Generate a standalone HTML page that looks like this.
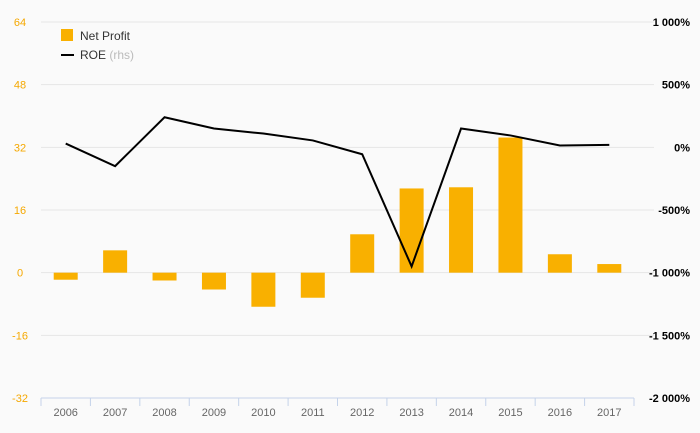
<!DOCTYPE html>
<html><head><meta charset="utf-8"><style>
body{margin:0;background:#fafafa;}
svg{display:block;font-family:"Liberation Sans",sans-serif;}
</style></head><body>
<svg id="c" width="700" height="433"></svg>
<script>
const categories=["2006","2007","2008","2009","2010","2011","2012","2013","2014","2015","2016","2017"];
const netProfit=[-1.8,5.7,-2,-4.3,-8.7,-6.4,9.8,21.5,21.8,34.5,4.7,2.2];
const roe=[30,-150,240,150,110,55,-55,-950,150,95,15,20];
const leftTicks=[64,48,32,16,0,-16,-32];
const rightTicks=[1000,500,0,-500,-1000,-1500,-2000];
const rightLabels=["1 000%","500%","0%","-500%","-1 000%","-1 500%","-2 000%"];
const NS="http://www.w3.org/2000/svg";
const svg=document.getElementById('c');
const X0=41,X1=634,Y0=22,Y1=398;
const yL=v=>Y0+(64-v)/96*(Y1-Y0);
const yR=v=>Y0+(1000-v)/3000*(Y1-Y0);
const bw=(X1-X0)/categories.length;
const xC=i=>X0+bw*(i+0.5);
function el(t,a,txt){const e=document.createElementNS(NS,t);for(const k in a)e.setAttribute(k,a[k]);if(txt!=null)e.textContent=txt;svg.appendChild(e);return e;}
leftTicks.forEach((v,i)=>{
 if(v!==-32){const g=el('line',{x1:X0,x2:X1+20,y1:yL(v),y2:yL(v),stroke:'#e6e6e6','stroke-width':1});
 
 }
 const t=el('text',{x:20,y:yL(v)+4,'text-anchor':'middle','font-size':11,fill:'#f5a800'},String(v));
 
 
 const r=el('text',{x:690,y:yR(rightTicks[i])+4,'text-anchor':'end','font-size':11,'font-weight':'bold',fill:'#000'},rightLabels[i]);
 
 
});
const ax=el('line',{x1:X0,x2:X1,y1:Y1,y2:Y1,stroke:'#c5d3ea','stroke-width':1});


for(let i=0;i<=categories.length;i++){
 const tk=el('line',{x1:X0+bw*i,x2:X0+bw*i,y1:Y1,y2:Y1+8,stroke:'#c5d3ea'});
 
 
}
categories.forEach((c,i)=>{
 const t=el('text',{x:xC(i),y:416,'text-anchor':'middle','font-size':11,fill:'#666'},c);
 
 
 const v=netProfit[i];
 const b=el('rect',{x:xC(i)-12,width:24,y:Math.min(yL(v),yL(0)),height:Math.abs(yL(v)-yL(0)),fill:'#f9b000'});
 
 
});
const ln=el('polyline',{points:roe.map((v,i)=>xC(i)+','+yR(v)).join(' '),fill:'none',stroke:'#000','stroke-width':2});


const l1=el('rect',{x:61,y:29,width:12,height:12,fill:'#f9b000'});


const l1t=el('text',{x:80,y:40,'font-size':12,fill:'#333'},'Net Profit');


const l2=el('line',{x1:61,x2:74,y1:55,y2:55,stroke:'#000','stroke-width':2});


const l2t=el('text',{x:80,y:59,'font-size':12,fill:'#333'});


l2t.innerHTML='ROE <tspan fill="#bbb">(rhs)</tspan>';
</script>
</body></html>
